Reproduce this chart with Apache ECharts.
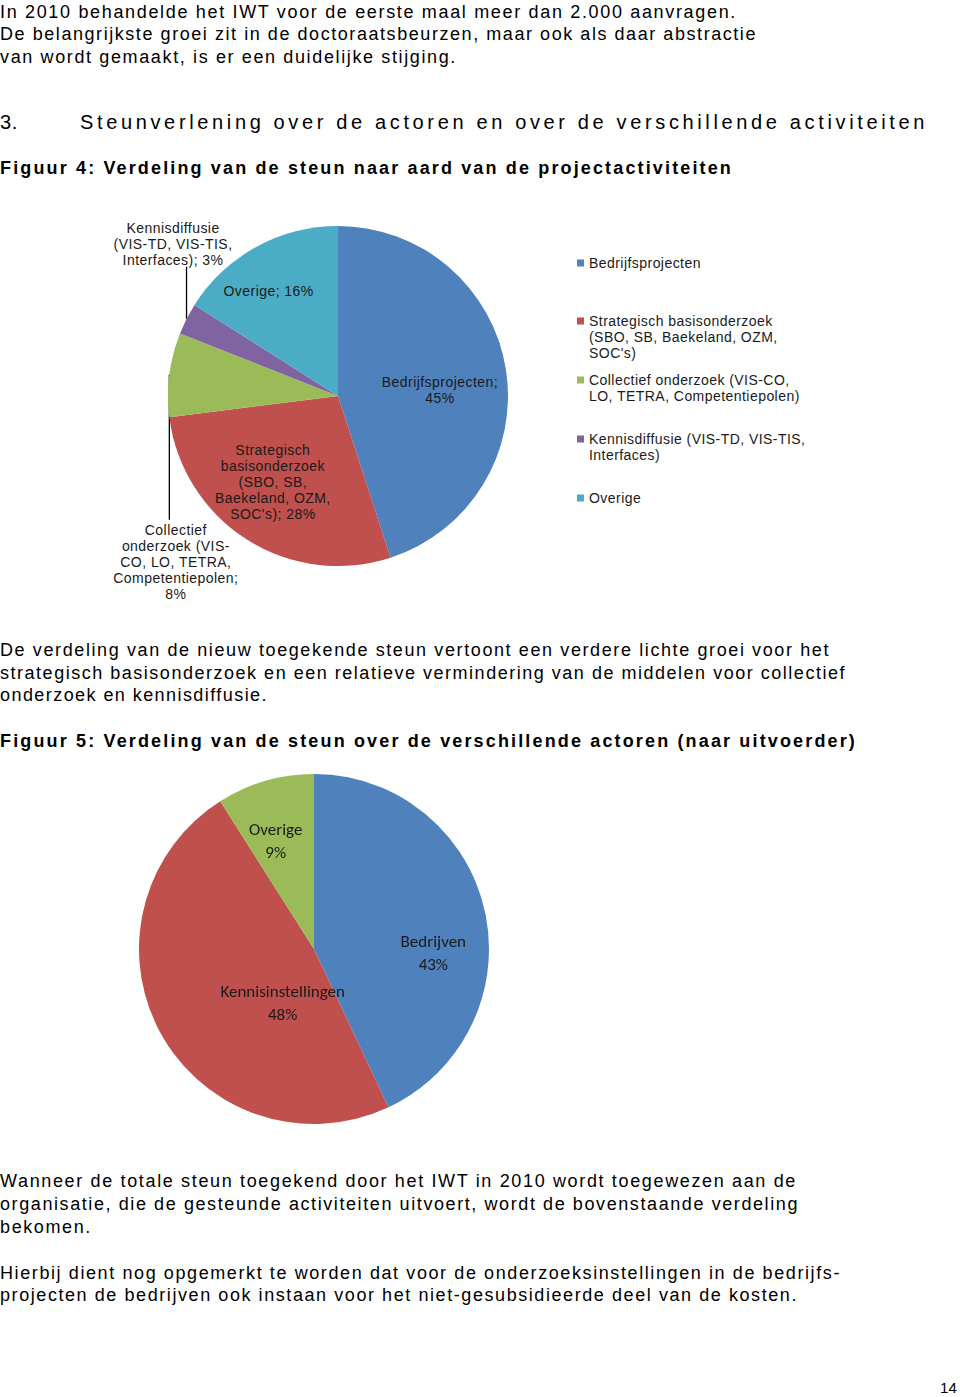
<!DOCTYPE html>
<html>
<head>
<meta charset="utf-8">
<script src="https://cdn.jsdelivr.net/npm/echarts@6/dist/echarts.min.js"></script>
<style>
html, body { margin: 0; padding: 0; background: #fff; }
#page { position: relative; width: 960px; height: 1397px; overflow: hidden; background: #fff;
  font-family: "Liberation Sans", Arial, Helvetica, sans-serif; color: #000; }
.ln { position: absolute; white-space: pre; font-size: 18px; line-height: 22px; }
.h { font-size: 20px; line-height: 24px; }
.b { font-weight: bold; }
.pn { font-size: 15px; line-height: 18px; }
#c1 { position: absolute; left: 0; top: 190px; width: 960px; height: 430px; }
#c2 { position: absolute; left: 0; top: 760px; width: 960px; height: 380px; }
#c1 text { letter-spacing: 0.45px; }
</style>
</head>
<body>
<div id="page">
  <div id="c1"></div>
  <div id="c2"></div>
</div>
<script>
// ---------- DATA ----------
// Figuur 4
const categories1 = [
  'Bedrijfsprojecten',
  "Strategisch basisonderzoek (SBO, SB, Baekeland, OZM, SOC's)",
  'Collectief onderzoek (VIS-CO, LO, TETRA, Competentiepolen)',
  'Kennisdiffusie (VIS-TD, VIS-TIS, Interfaces)',
  'Overige'
];
const values1 = [45, 28, 8, 3, 16];
const legendText1 = [
  'Bedrijfsprojecten',
  "Strategisch basisonderzoek\n(SBO, SB, Baekeland, OZM,\nSOC's)",
  'Collectief onderzoek (VIS-CO,\nLO, TETRA, Competentiepolen)',
  'Kennisdiffusie (VIS-TD, VIS-TIS,\nInterfaces)',
  'Overige'
];
const dataLabelText1 = [
  'Bedrijfsprojecten;\n{v}',
  "Strategisch\nbasisonderzoek\n(SBO, SB,\nBaekeland, OZM,\nSOC's); {v}",
  'Collectief\nonderzoek (VIS-\nCO, LO, TETRA,\nCompetentiepolen;\n{v}',
  'Kennisdiffusie\n(VIS-TD, VIS-TIS,\nInterfaces); {v}',
  'Overige; {v}'
];
// Figuur 5
const categories2 = ['Bedrijven', 'Kennisinstellingen', 'Overige'];
const values2 = [43, 48, 9];

// Page text (real text, original language)
const textLines = [
  'In 2010 behandelde het IWT voor de eerste maal meer dan 2.000 aanvragen.',
  'De belangrijkste groei zit in de doctoraatsbeurzen, maar ook als daar abstractie',
  'van wordt gemaakt, is er een duidelijke stijging.',
  '3.',
  'Steunverlening over de actoren en over de verschillende activiteiten',
  'Figuur 4: Verdeling van de steun naar aard van de projectactiviteiten',
  'De verdeling van de nieuw toegekende steun vertoont een verdere lichte groei voor het',
  'strategisch basisonderzoek en een relatieve vermindering van de middelen voor collectief',
  'onderzoek en kennisdiffusie.',
  'Figuur 5: Verdeling van de steun over de verschillende actoren (naar uitvoerder)',
  'Wanneer de totale steun toegekend door het IWT in 2010 wordt toegewezen aan de',
  'organisatie, die de gesteunde activiteiten uitvoert, wordt de bovenstaande verdeling',
  'bekomen.',
  'Hierbij dient nog opgemerkt te worden dat voor de onderzoeksinstellingen in de bedrijfs-',
  'projecten de bedrijven ook instaan voor het niet-gesubsidieerde deel van de kosten.',
  '14'
];

// ---------- LAYOUT / STYLE (not data) ----------
const TEXT_LAYOUT = [
  { x: 0, y: 11.5, w: 737, cls: '' },
  { x: 0, y: 34, w: 757, cls: '' },
  { x: 0, y: 56.5, w: 457, cls: '' },
  { x: 0, y: 122, w: 18, cls: 'h' },
  { x: 80, y: 122, w: 848, cls: 'h' },
  { x: 0, y: 168, w: 733, cls: 'b' },
  { x: 0, y: 650, w: 830, cls: '' },
  { x: 0, y: 672.5, w: 846, cls: '' },
  { x: 0, y: 695, w: 268, cls: '' },
  { x: 0, y: 741, w: 857, cls: 'b' },
  { x: 0, y: 1181, w: 797, cls: '' },
  { x: 0, y: 1204, w: 799, cls: '' },
  { x: 0, y: 1226.5, w: 92, cls: '' },
  { x: 0, y: 1273, w: 841, cls: '' },
  { x: 0, y: 1295, w: 798, cls: '' },
  { x: 940, y: 1388, w: 17, cls: 'pn' }
];
const C1_TOP = 190, C2_TOP = 760;
const COLORS = ['#4F81BD', '#C0504D', '#9BBB59', '#8064A2', '#4BACC6'];
const LEGEND_LINE_Y = [263, 321, 380, 439, 498];
const LEGEND_LH = 16;
const LABEL_ADJ1 = [
  { dx: 15, dy: 8 },
  { dx: -18, dy: 12 },
  { out: 'below', dx: 6.5, gap: 147 },
  { out: 'above', dx: -13.5, gap: 51 },
  { dx: -27, dy: -28 }
];
const LABEL_ADJ2 = [
  { dx: 31, dy: 25 },
  { dx: 48, dy: 12 },
  { dx: -13, dy: -20 }
];

// ---------- page text ----------
const page = document.getElementById('page');
textLines.forEach(function (t, i) {
  const L = TEXT_LAYOUT[i];
  const d = document.createElement('div');
  d.className = 'ln ' + L.cls;
  d.textContent = t;
  d.style.left = L.x + 'px';
  page.appendChild(d);
  const lh = parseFloat(getComputedStyle(d).lineHeight);
  d.style.top = (L.y - lh / 2) + 'px';
  const w = d.getBoundingClientRect().width;
  const n = Array.from(t).length;
  d.style.letterSpacing = ((L.w - w) / n) + 'px';
});

// ---------- Figuur 4 ----------
const chart1 = echarts.init(document.getElementById('c1'), null, { renderer: 'svg' });
const font1 = { fontFamily: '"Liberation Sans", Arial, sans-serif', fontSize: 14, lineHeight: 16, color: '#1a1a1a' };

// legend icon: a 7x7 square level with the first text line, in a box as tall as the text block
function iconFor(nLines) {
  const H = nLines * LEGEND_LH;
  const a = LEGEND_LH / 2 - 3.5, b = LEGEND_LH / 2 + 3.5;
  return 'path://M0 0L7 0L7 0Z M0 ' + a + 'L7 ' + a + 'L7 ' + b + 'L0 ' + b + 'Z M0 ' + H + 'L7 ' + H + 'L7 ' + H + 'Z';
}

const legends1 = categories1.map(function (name, i) {
  const nLines = legendText1[i].split('\n').length;
  return {
    data: [name],
    orient: 'vertical',
    left: 577,
    top: LEGEND_LINE_Y[i] - C1_TOP - LEGEND_LH / 2,
    padding: 0,
    itemWidth: 7,
    itemHeight: nLines * LEGEND_LH,
    icon: iconFor(nLines),
    selectedMode: false,
    formatter: function (n) { return legendText1[categories1.indexOf(n)]; },
    textStyle: font1
  };
});

chart1.setOption({
  animation: false,
  color: COLORS,
  legend: legends1,
  series: [{
    type: 'pie',
    center: [338, 396 - C1_TOP],
    radius: 170,
    startAngle: 90,
    clockwise: true,
    avoidLabelOverlap: false,
    emphasis: { disabled: true },
    itemStyle: { borderWidth: 0 },
    data: categories1.map(function (name, i) {
      const item = { name: name, value: values1[i] };
      if (LABEL_ADJ1[i].out) {
        item.label = { position: 'outside' };
        item.labelLine = { show: true };
      }
      return item;
    }),
    label: Object.assign({
      show: true,
      position: 'inside',
      align: 'center',
      formatter: function (p) { return dataLabelText1[p.dataIndex].replace('{v}', p.value + '%'); }
    }, font1),
    labelLine: { show: true, lineStyle: { color: '#000', width: 1.3 } },
    labelLayout: function (p) {
      const a = LABEL_ADJ1[p.dataIndex];
      if (a.out && p.labelLinePoints) {
        const e = p.labelLinePoints[0];
        if (a.out === 'above') {
          const b = e[1] - a.gap;
          return { x: e[0] + a.dx, y: b, align: 'center', verticalAlign: 'bottom',
            labelLinePoints: [[e[0], e[1]], [e[0], b - 1], [e[0], b - 1]] };
        } else {
          const t = e[1] + a.gap;
          return { x: e[0] + a.dx, y: t, align: 'center', verticalAlign: 'top',
            labelLinePoints: [[e[0], e[1]], [e[0], t - 2], [e[0], t - 2]] };
        }
      }
      const r = p.labelRect;
      return { x: r.x + r.width / 2 + (a.dx || 0), y: r.y + r.height / 2 + (a.dy || 0),
        align: 'center', verticalAlign: 'middle' };
    }
  }]
});

// ---------- Figuur 5 ----------
const chart2 = echarts.init(document.getElementById('c2'));
chart2.setOption({
  animation: false,
  color: COLORS,
  series: [{
    type: 'pie',
    center: [314, 949 - C2_TOP],
    radius: 175,
    startAngle: 90,
    clockwise: true,
    avoidLabelOverlap: false,
    emphasis: { disabled: true },
    itemStyle: { borderWidth: 0 },
    data: categories2.map(function (name, i) { return { name: name, value: values2[i] }; }),
    label: {
      show: true,
      position: 'inside',
      align: 'center',
      formatter: '{b}\n{c}%',
      fontFamily: 'Carlito, Calibri, Lato, sans-serif',
      fontSize: 17,
      lineHeight: 23,
      color: '#1a1a1a'
    },
    labelLine: { show: false },
    labelLayout: function (p) {
      const a = LABEL_ADJ2[p.dataIndex];
      const r = p.labelRect;
      return { x: r.x + r.width / 2 + a.dx, y: r.y + r.height / 2 + a.dy,
        align: 'center', verticalAlign: 'middle' };
    }
  }]
});
</script>
</body>
</html>
